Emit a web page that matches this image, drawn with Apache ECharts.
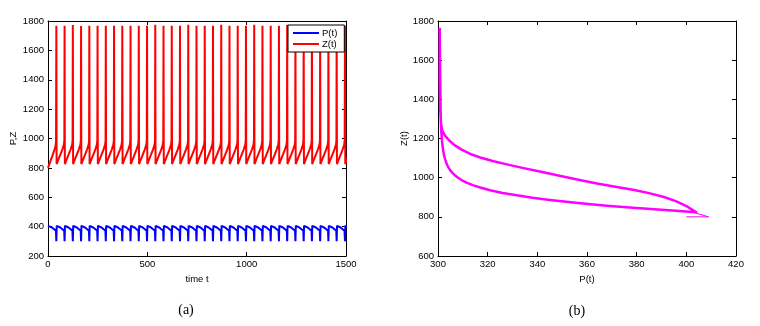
<!DOCTYPE html>
<html lang="en">
<head>
<meta charset="UTF-8">
<title>P(t), Z(t) time series and phase plane</title>
<script src="https://cdn.jsdelivr.net/npm/echarts@6/dist/echarts.min.js"></script>
<style>
    html, body { margin: 0; padding: 0; background: #fff; }
    #main { width: 760px; height: 326px; }
</style>
</head>
<body>
<div id="main"></div>
<script>
// ---- panel (a): values ----
// times of the Z(t) spikes
var spikeTimes = [42, 83.5, 125, 166.5, 208, 249.5, 291, 332.5, 374, 415.5, 457, 498.5,
    540, 581.5, 623, 664.5, 706, 747.5, 789, 830.5, 872, 913.5, 955, 996.5,
    1038, 1079.5, 1121, 1162.5, 1204, 1245.5, 1287, 1328.5, 1370, 1411.5, 1453, 1495];
// height of each spike
var zPeaks = [1768, 1768, 1772, 1766, 1768, 1768, 1768, 1768, 1768, 1768, 1768, 1768,
    1774, 1768, 1768, 1768, 1774, 1768, 1768, 1768, 1774, 1768, 1768, 1768,
    1774, 1768, 1768, 1768, 1774, 1768, 1768, 1768, 1768, 1768, 1768, 1768];
// stretch before the first spike, [t, value]
var zStart = [[0, 800], [10, 838], [20, 875], [30, 912], [38, 950], [40.5, 980]];
var pStart = [[0, 405], [10, 401], [20, 394], [30, 384], [40, 372]];
// one cycle after a spike, [time after spike, value]
var zCycle = [[1.4, 826], [10, 856], [20, 890], [30, 925], [38, 958], [40.3, 985]];
var pCycle = [[0, 300], [0.9, 300], [1.8, 405], [10, 401], [20, 394], [30, 384], [39.5, 372]];

// ---- panel (b): [P, Z] ----
var phaseStart = [[400, 800], [409, 800], [403, 822]];
var phaseUpper = [[300.7, 1766], [300.7, 1500], [300.9, 1350], [301.2, 1280], [301.7, 1240],
    [302.8, 1215], [304.5, 1190], [306.8, 1165], [309.5, 1143], [313, 1121], [317, 1103],
    [322, 1085], [327.7, 1068], [334, 1050], [341, 1032], [348, 1012], [356, 991],
    [364, 970], [372, 952], [378.5, 938], [385, 921], [391, 901], [396, 879], [400, 855],
    [402.6, 834], [404, 823]];
var phaseLower = [[404, 823], [402.6, 825], [398.6, 829], [390, 836], [378.5, 846], [368, 857],
    [358.4, 868], [345, 886], [338, 897], [331.7, 910], [326, 922], [321, 936], [317, 950],
    [314, 962], [311.5, 975], [309.5, 988], [307.8, 1002], [306.3, 1018], [305, 1036],
    [304, 1056], [303.2, 1080], [302.5, 1110], [302, 1145], [301.6, 1190], [301.3, 1240],
    [301.1, 1300], [301, 1400], [300.8, 1600], [300.7, 1766]];

// build the time series from the spike times and the cycle shape
var zData = zStart.slice();
var pData = pStart.slice();
for (var i = 0; i < spikeTimes.length; i++) {
    var s = spikeTimes[i];
    zData.push([s, zPeaks[i]]);
    zCycle.forEach(function (d) { zData.push([s + d[0], d[1]]); });
    pCycle.forEach(function (d) { pData.push([s + d[0], d[1]]); });
}
var phaseLoop = phaseUpper.concat(phaseLower.slice(1));

var font = '"Liberation Sans", Arial, sans-serif';
var lbl = { color: '#000', fontSize: 9.5, fontFamily: font, formatter: function (v) { return String(v); } };

function frameAxis(type, gi, pos, min, max, step, name, gap, showLabel) {
    return {
        type: 'value', gridIndex: gi, position: pos, min: min, max: max, interval: step,
        name: name, nameLocation: 'middle', nameGap: gap,
        nameTextStyle: { color: '#000', fontSize: 9.5, fontFamily: font },
        axisLine: { show: true, onZero: false, lineStyle: { color: '#000', width: 1 } },
        axisTick: { show: true, inside: true, length: 4, lineStyle: { color: '#000' } },
        axisLabel: Object.assign({ show: showLabel, margin: type === 'x' ? 3 : 4 }, lbl),
        splitLine: { show: false }
    };
}

var lineIcon = 'path://M0,0 L26,0 L26,2 L0,2 Z';

var chart = echarts.init(document.getElementById('main'));
chart.setOption({
    animation: false,
    backgroundColor: '#fff',
    grid: [
        { left: 48, top: 21, width: 298, height: 235 },
        { left: 438, top: 21, width: 298, height: 235 }
    ],
    xAxis: [
        frameAxis('x', 0, 'bottom', 0, 1500, 500, 'time t', 14, true),
        frameAxis('x', 0, 'top', 0, 1500, 500, '', 0, false),
        frameAxis('x', 1, 'bottom', 300, 420, 20, 'P(t)', 14, true),
        frameAxis('x', 1, 'top', 300, 420, 20, '', 0, false)
    ],
    yAxis: [
        frameAxis('y', 0, 'left', 200, 1800, 200, 'P,Z', 30, true),
        frameAxis('y', 0, 'right', 200, 1800, 200, '', 0, false),
        frameAxis('y', 1, 'left', 600, 1800, 200, 'Z(t)', 29, true),
        frameAxis('y', 1, 'right', 600, 1800, 200, '', 0, false)
    ],
    legend: {
        left: 288, top: 25, orient: 'vertical',
        data: [{ name: 'P(t)', icon: lineIcon }, { name: 'Z(t)', icon: lineIcon }],
        backgroundColor: '#fff', borderColor: '#000', borderWidth: 1,
        padding: [3, 7, 3, 5], itemGap: 1, itemWidth: 26, itemHeight: 2,
        textStyle: { color: '#000', fontSize: 9.5, fontFamily: font, lineHeight: 10, padding: [0, 0, 0, -2] }
    },
    series: [
        { name: 'P(t)', type: 'line', xAxisIndex: 0, yAxisIndex: 0, data: pData, symbol: 'none',
          lineStyle: { color: '#0000ff', width: 2 }, itemStyle: { color: '#0000ff' } },
        { name: 'Z(t)', type: 'line', xAxisIndex: 0, yAxisIndex: 0, data: zData, symbol: 'none',
          lineStyle: { color: '#ff0000', width: 2 }, itemStyle: { color: '#ff0000' } },
        { name: 'start', type: 'line', xAxisIndex: 2, yAxisIndex: 2, data: phaseStart, symbol: 'none',
          lineStyle: { color: '#ff00ff', width: 1 } },
        { name: 'loop', type: 'line', xAxisIndex: 2, yAxisIndex: 2, data: phaseLoop, symbol: 'none',
          lineStyle: { color: '#ff00ff', width: 2.5, join: 'round' } }
    ],
    graphic: [
        { type: 'text', style: { text: '(a)', x: 186, y: 310, align: 'center', verticalAlign: 'middle',
            font: '14px "Liberation Serif", "Times New Roman", serif', fill: '#000' } },
        { type: 'text', style: { text: '(b)', x: 577, y: 311, align: 'center', verticalAlign: 'middle',
            font: '14px "Liberation Serif", "Times New Roman", serif', fill: '#000' } }
    ]
});
</script>
</body>
</html>
